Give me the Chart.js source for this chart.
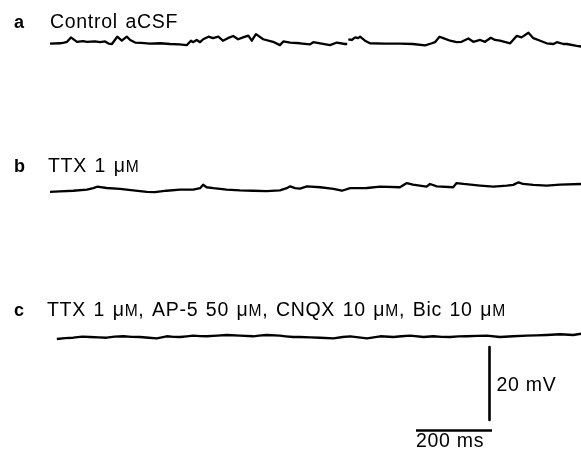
<!DOCTYPE html>
<html>
<head>
<meta charset="utf-8">
<script src="https://cdn.jsdelivr.net/npm/chart.js@4.4.1/dist/chart.umd.min.js"></script>
<style>
  html, body { margin: 0; padding: 0; background: #fff; }
  #wrap { width: 581px; height: 454px; }
</style>
</head>
<body>
<div id="wrap"><canvas id="traces" width="581" height="454"></canvas></div>
<script>
// panel letters and recording conditions
const panelTags = ['a', 'b', 'c'];
const conditions = [
  'Control aCSF',
  'TTX 1 μM',
  'TTX 1 μM, AP-5 50 μM, CNQX 10 μM, Bic 10 μM'
];

// membrane potential, [time (ms), deflection from rest (mV)]
const ctrlTrace = [
  [0, 0.1], [26, 0.2], [37, 0.4], [45, 0.6], [55, 1.8], [63, 1.2], [71, 0.6], [87, 0.8], [97, 0.6], [118, 0.7],
  [132, 0.5], [145, 0.7], [155, 0.1], [163, 0.0], [177, 2.0], [189, 0.9], [202, 2.0], [211, 1.1], [224, 0.4], [240, 0.3],
  [263, 0.1], [290, 0.2], [316, 0.0], [340, -0.1], [360, -0.3], [371, 0.9], [376, 0.5], [386, 1.1], [395, 0.5], [403, 1.3],
  [417, 2.0], [429, 1.6], [443, 2.0], [455, 0.9], [468, 1.6], [482, 2.2], [495, 1.3], [508, 1.8], [522, 2.3], [531, 0.9],
  [542, 2.7], [561, 1.3], [587, 0.6], [605, -0.3], [614, 0.7], [632, 0.4], [658, 0.2], [684, -0.1], [693, 0.5], [711, 0.2],
  [737, -0.3], [755, 0.4], [776, 0.0], [782, 0.0], [783, null], [785, 1.3], [794, 1.1], [803, 1.8], [811, 1.6], [816, 2.0],
  [829, 0.9], [842, 0.2], [880, 0.1], [921, 0.1], [955, 0.0], [987, -0.4], [1005, 0.2], [1013, 0.5], [1025, 2.0], [1035, 1.6],
  [1053, 0.9], [1070, 0.5], [1083, 0.6], [1101, 1.5], [1114, 0.6], [1132, 1.1], [1145, 0.6], [1160, 1.7], [1171, 1.1], [1184, 0.9],
  [1211, 0.2], [1228, 2.2], [1241, 1.8], [1259, 3.1], [1272, 1.6], [1290, 0.9], [1307, 0.2], [1325, 0.0], [1334, 0.5], [1351, 0.0],
  [1360, 0.0], [1386, -0.5], [1398, -0.7]
];
const ttxTrace = [
  [0, -0.5], [26, -0.4], [61, -0.2], [97, 0.1], [114, 0.5], [124, 0.9], [149, 0.55], [184, 0.3], [219, -0.1], [255, -0.5],
  [276, -0.6], [307, -0.2], [342, 0.1], [377, 0.1], [395, 0.5], [403, 1.45], [412, 0.75], [430, 0.5], [465, 0.1], [500, -0.1],
  [535, -0.2], [570, -0.3], [605, -0.1], [623, 0.5], [632, 1.0], [645, 0.5], [658, 0.4], [676, 1.0], [711, 0.75], [746, 0.3],
  [768, -0.2], [790, 0.5], [834, 0.55], [869, 0.9], [921, 0.75], [939, 1.9], [955, 1.45], [991, 0.9], [1000, 1.65], [1018, 1.0],
  [1061, 0.75], [1070, 1.9], [1088, 1.65], [1132, 1.2], [1167, 0.9], [1202, 1.2], [1219, 1.4], [1233, 2.1], [1245, 1.65], [1272, 1.4],
  [1307, 1.2], [1342, 1.45], [1398, 1.65]
];
const blockTrace = [
  [18, -0.55], [40, -0.3], [61, -0.2], [85, 0.1], [105, 0.0], [128, -0.1], [149, -0.2], [170, 0.1], [193, 0.2], [215, 0.05],
  [237, 0.0], [260, -0.2], [281, -0.35], [307, 0.2], [325, 0.05], [342, 0.0], [360, 0.2], [377, 0.35], [395, 0.25], [412, 0.2],
  [440, 0.4], [465, 0.55], [500, 0.35], [535, 0.2], [550, 0.4], [570, 0.55], [605, 0.35], [620, 0.2], [640, 0.0], [658, 0.0],
  [685, -0.1], [711, -0.2], [746, -0.35], [770, 0.0], [790, 0.2], [812, -0.1], [834, -0.35], [869, 0.2], [904, 0.0], [925, 0.2],
  [948, 0.35], [983, 0.0], [1009, 0.2], [1030, 0.05], [1053, 0.0], [1075, 0.15], [1097, 0.2], [1125, 0.3], [1149, 0.35], [1184, 0.0],
  [1219, 0.2], [1255, 0.35], [1280, 0.45], [1307, 0.55], [1342, 0.75], [1377, 0.55], [1398, 0.9]
];
const traces = [ctrlTrace, ttxTrace, blockTrace];

// calibration bars
const barMv = 20;
const barMs = 200;

// ---- layout (pixels) ----
const W = 581, H = 454;
const PX_PER_MS = 0.38;
const PX_PER_MV = 3.65;
const T0_PX = 50;                    // where t = 0 sits
const traceRowPx = [44, 190, 337];   // resting level of each trace
const textRowPx = [28, 172, 316];    // text baselines
const textLeftPx = [50, 48, 47];
const tagLeftPx = 14;
const vBarPx = { x: 489.5, top: 347 };
const hBarPx = { y: 430.5, right: 492 };

const FONT = '"Liberation Sans", Arial, Helvetica, sans-serif';
const INK = '#000';

const msAt = px => (px - T0_PX) / PX_PER_MS;
const mvAt = py => -py / PX_PER_MV;

const traceSets = traces.map((tr, k) => ({
  data: tr.map(([t, v]) => ({ x: t, y: v === null ? null : v + mvAt(traceRowPx[k]) })),
  borderColor: INK,
  borderWidth: 2.3,
  spanGaps: false
}));

const vBarT = msAt(vBarPx.x);
const vBarTop = mvAt(vBarPx.top);
const hBarEnd = msAt(hBarPx.right);
const hBarLevel = mvAt(hBarPx.y);

const barSets = [
  { data: [{ x: vBarT, y: vBarTop }, { x: vBarT, y: vBarTop - barMv }], borderColor: INK, borderWidth: 2.6 },
  { data: [{ x: hBarEnd - barMs, y: hBarLevel }, { x: hBarEnd, y: hBarLevel }], borderColor: INK, borderWidth: 2.6 }
];

// text with the μM unit set in small caps
function drawRich(ctx, text, x, y, size) {
  const parts = text.split('μM');
  parts.forEach((p, i) => {
    ctx.font = `${size}px ${FONT}`;
    ctx.fillText(p, x, y);
    x += ctx.measureText(p).width;
    if (i < parts.length - 1) {
      ctx.fillText('μ', x, y);
      x += ctx.measureText('μ').width;
      ctx.font = `${size * 0.8}px ${FONT}`;
      ctx.fillText('M', x, y);
      x += ctx.measureText('M').width;
    }
  });
}

const labelPlugin = {
  id: 'labels',
  afterDraw(chart) {
    const ctx = chart.ctx;
    const xs = chart.scales.x, ys = chart.scales.y;
    ctx.save();
    ctx.fillStyle = INK;
    ctx.textBaseline = 'alphabetic';
    ctx.textAlign = 'left';
    if ('letterSpacing' in ctx) ctx.letterSpacing = '0.7px';
    if ('wordSpacing' in ctx) ctx.wordSpacing = '1.5px';
    panelTags.forEach((tag, k) => {
      ctx.font = `bold 18px ${FONT}`;
      ctx.fillText(tag, tagLeftPx, textRowPx[k]);
      drawRich(ctx, conditions[k], textLeftPx[k], textRowPx[k], 19.5);
    });
    // calibration labels
    if ('wordSpacing' in ctx) ctx.wordSpacing = '0px';
    ctx.font = `19.5px ${FONT}`;
    const vx = xs.getPixelForValue(vBarT);
    const vMid = (ys.getPixelForValue(vBarTop) + ys.getPixelForValue(vBarTop - barMv)) / 2;
    ctx.fillText(barMv + ' mV', vx + 7, vMid + 7);
    const hx = xs.getPixelForValue(hBarEnd - barMs);
    const hy = ys.getPixelForValue(hBarLevel);
    ctx.fillText(barMs + ' ms', hx, hy + 16);
    ctx.restore();
  }
};

new Chart(document.getElementById('traces'), {
  type: 'line',
  data: { datasets: [...traceSets, ...barSets] },
  options: {
    responsive: false,
    animation: false,
    layout: { padding: 0 },
    elements: {
      point: { radius: 0, hoverRadius: 0 },
      line: { tension: 0, borderJoinStyle: 'round', borderCapStyle: 'butt', fill: false }
    },
    scales: {
      x: { type: 'linear', display: false, min: msAt(0), max: msAt(W) },
      y: { type: 'linear', display: false, min: mvAt(H), max: 0 }
    },
    plugins: { legend: { display: false }, tooltip: { enabled: false } },
    events: []
  },
  plugins: [labelPlugin]
});
</script>
</body>
</html>
